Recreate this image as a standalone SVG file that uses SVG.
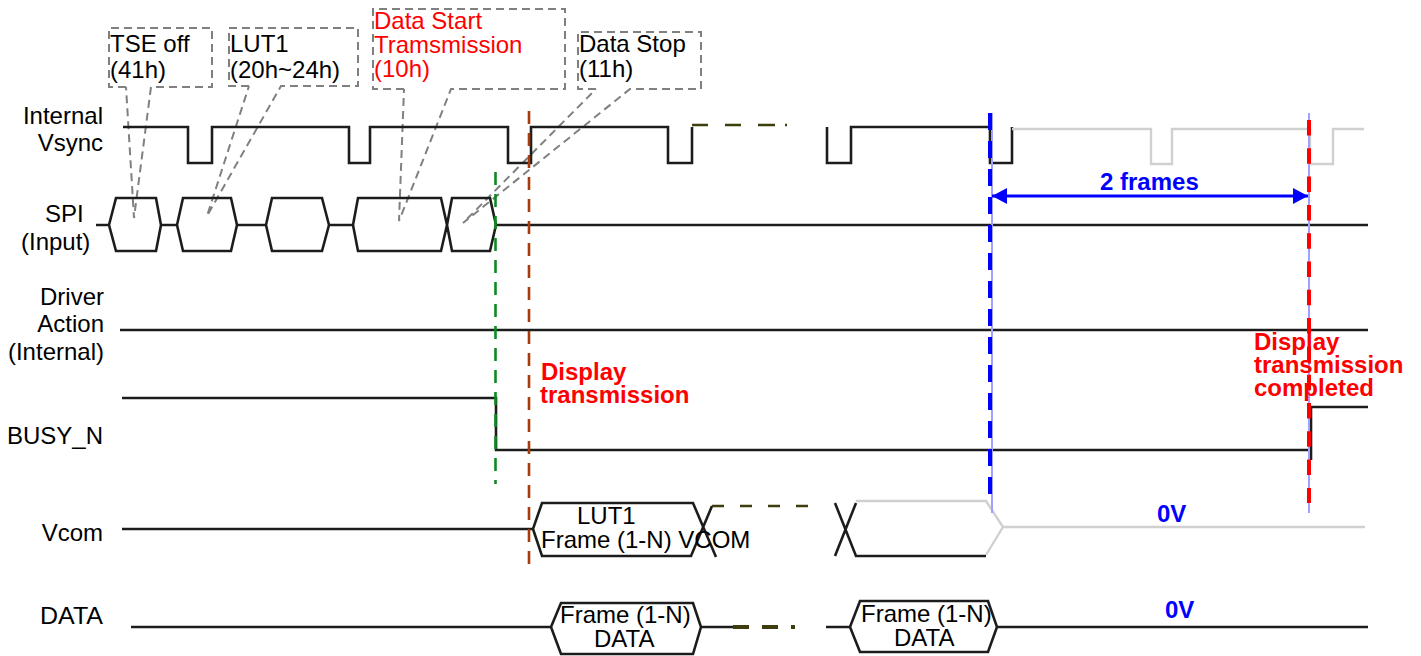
<svg xmlns="http://www.w3.org/2000/svg" width="1421" height="656" viewBox="0 0 1421 656">
<style>
text{font-family:"Liberation Sans",Arial,sans-serif;font-size:24px;fill:#000}
.r{text-anchor:end}
.red{fill:#f00}
.redb{fill:#f00;font-weight:bold}
.blue{fill:#00f;font-weight:bold}
.sig{fill:none;stroke:#1e1e1e;stroke-width:2.6}
.gray{fill:none;stroke:#d0d0d0;stroke-width:2.4}
.call{fill:none;stroke:#808080;stroke-width:2;stroke-dasharray:8 5}
.olive{fill:none;stroke:#3c3c0a;stroke-width:2.6}
.lb{stroke:#a0a0ff;stroke-width:2;fill:none}
</style>
<defs>
<marker id="ah" markerUnits="userSpaceOnUse" markerWidth="16" markerHeight="16" refX="15" refY="8" orient="auto-start-reverse"><path d="M0 0L15 8L0 16Z" fill="#00f"/></marker>
<filter id="soft" x="-2%" y="-2%" width="104%" height="104%" filterUnits="objectBoundingBox"><feGaussianBlur stdDeviation="0.45"/></filter>
</defs>
<g id="callouts">
<g id="call-tse"><path class="call" d="M126 87H109V28H212V87H151L134 218L126 87"/><text x="110" y="52">TSE off</text><text x="110" y="78">(41h)</text></g>
<g id="call-lut1"><path class="call" d="M249 86H229V28H358V86H281L207 216L249 86"/><text x="230" y="52">LUT1</text><text x="230" y="78">(20h~24h)</text></g>
<g id="call-start"><path class="call" d="M404 89H373V9H565V89H451L399 221L404 89"/><text class="red" x="374" y="29">Data Start</text><text class="red" x="374" y="53">Tramsmission</text><text class="red" x="374" y="77">(10h)</text></g>
<g id="call-stop"><path class="call" d="M596 89H578V32H701V89H630L463 223L596 89"/><text x="579" y="52">Data Stop</text><text x="579" y="77">(11h)</text></g>
</g>
<g id="connectors" filter="url(#soft)">
<g id="vsync-wave">
<path class="sig" d="M123 127H188V163H212V127H349V163H370V127H508V163H531V127H668V163H692V127"/>
<path class="olive" stroke-dasharray="16 17 16 17 17 10 3" d="M692 125H787"/>
<path class="sig" d="M827 127V163H851V127H990V163H1012V127"/>
<path class="gray" d="M1012 129H1151V164H1172V129H1310V164H1333V129H1364"/>
</g>
<g id="spi-wave">
<path class="sig" d="M96 225H109L116 198H156L161 225L156 251H116L109 225M161 225H177L183 198H231L237 225L231 251H183L177 225M237 225H266L272 198H322L329 225L322 251H272L266 225M329 225H353L358 198H441L447 225L441 251H358L353 225M447 225L452 198H490L496 225L490 251H452L447 225M496 225H1368"/>
</g>
<path id="driver-wave" class="sig" d="M120 330H1368"/>
<path id="busy-wave" class="sig" d="M122 398H496V450H1311M1311 460V407H1368"/>
<g id="vcom-wave">
<path class="sig" d="M122 529H533L542 503H693L716 557M533 529L542 556H691L712 506"/>
<path class="olive" stroke-dasharray="12 16" d="M712 506H808"/>
<path class="sig" d="M835 503L856 556H986M856 503L835 556"/>
<path class="gray" d="M856 501H986L1003 527H1365M1003 527L986 555"/>
</g>
<g id="data-wave">
<path class="sig" d="M131 627H551L561 603H693L701 627L693 654H561L551 627M701 627H733"/>
<path class="olive" style="stroke-width:4" stroke-dasharray="16 13" d="M733 627H795"/>
<path class="sig" d="M826 627H850L860 601H988L997 627L988 652H860L850 627M997 627H1368"/>
</g>
<path id="green-marker" d="M495.5 172V484" fill="none" stroke="#0a8a1e" stroke-width="2.6" stroke-dasharray="13 9"/>
<path id="brown-marker" d="M529 111V568" fill="none" stroke="#a83a10" stroke-width="2.6" stroke-dasharray="13 9"/>
<path class="lb" d="M992 113V513"/>
<path class="lb" d="M1309 113V513"/>
<path id="blue-marker" d="M990 113V494" fill="none" stroke="#00f" stroke-width="4" stroke-dasharray="17 11"/>
<path id="red-marker" d="M1309 120V503" fill="none" stroke="#f00" stroke-width="4" stroke-dasharray="15.5 12.8"/>
<path id="frames-arrow" d="M992 196H1308" fill="none" stroke="#00f" stroke-width="3" marker-start="url(#ah)" marker-end="url(#ah)"/>
</g>
<g id="labels">
<text class="r" x="103" y="124">Internal</text><text class="r" x="103" y="151">Vsync</text>
<text x="45" y="222">SPI</text><text x="21" y="250">(Input)</text>
<text class="r" x="104" y="305">Driver</text><text class="r" x="104" y="332">Action</text><text class="r" x="104" y="360">(Internal)</text>
<text class="r" x="103" y="444">BUSY_N</text>
<text class="r" x="103" y="541">Vcom</text>
<text class="r" x="103" y="624" textLength="63" lengthAdjust="spacingAndGlyphs">DATA</text>
<text class="redb" x="541" y="380">Display</text><text class="redb" x="540" y="403">transmission</text>
<text class="redb" x="1254" y="350">Display</text><text class="redb" x="1254" y="373">transmission</text><text class="redb" x="1254" y="396">completed</text>
<text class="blue" x="1100" y="190">2 frames</text>
<text class="blue" x="1157" y="522">0V</text>
<text class="blue" x="1165" y="618">0V</text>
<text x="577" y="524">LUT1</text><text x="541" y="548">Frame (1-N) VCOM</text>
<text x="560" y="623">Frame (1-N)</text><text x="594" y="647">DATA</text>
<text x="861" y="622">Frame (1-N)</text><text x="894" y="646">DATA</text>
</g>
</svg>
